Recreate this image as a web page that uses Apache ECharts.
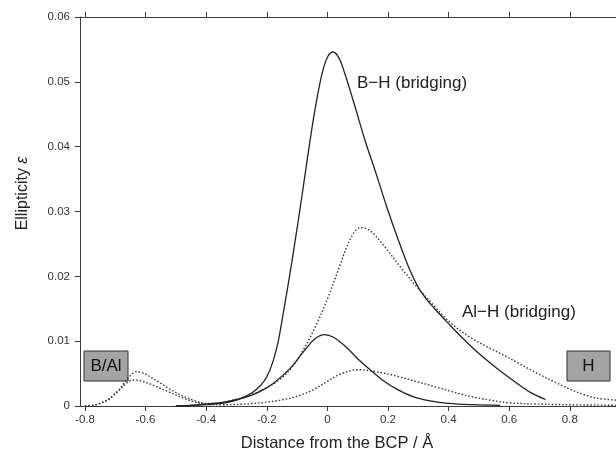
<!DOCTYPE html>
<html><head><meta charset="utf-8">
<script src="https://cdn.jsdelivr.net/npm/echarts@6/dist/echarts.min.js"></script>
<style>html,body{margin:0;padding:0;background:#fff}#c{width:616px;height:463px}</style>
</head><body><div id="c"></div>
<script>
const xTicks = [-0.8, -0.6, -0.4, -0.2, 0, 0.2, 0.4, 0.6, 0.8];

const solidBigX = [-0.5,-0.45,-0.4,-0.35,-0.3,-0.25,-0.22,-0.2,-0.18,-0.163,-0.145,-0.125,-0.107,-0.09,-0.074,-0.057,-0.04,-0.018,0,0.018,0.038,0.058,0.091,0.124,0.161,0.196,0.234,0.27,0.3,0.33,0.36,0.4,0.45,0.5,0.56,0.62,0.67,0.72];
const solidBigY = [0,0.0001,0.0002,0.0004,0.0009,0.002,0.0032,0.0045,0.0068,0.0098,0.0145,0.02,0.0253,0.0305,0.0356,0.041,0.046,0.0512,0.0538,0.0546,0.0537,0.0512,0.0462,0.041,0.0358,0.0307,0.0256,0.0212,0.0183,0.0163,0.0147,0.0127,0.0103,0.0081,0.0058,0.0037,0.0021,0.001];

const solidSmallX = [-0.5,-0.45,-0.377,-0.32,-0.266,-0.22,-0.178,-0.123,-0.068,-0.04,-0.01,0.02,0.064,0.1,0.141,0.185,0.229,0.28,0.339,0.4,0.48,0.57];
const solidSmallY = [0,0.0001,0.0004,0.0008,0.0014,0.0023,0.0035,0.0058,0.009,0.0104,0.011,0.0106,0.009,0.0073,0.0056,0.0039,0.0026,0.0015,0.0008,0.0004,0.0002,0.0001];

const dottedBigX = [-0.8,-0.775,-0.75,-0.725,-0.706,-0.688,-0.673,-0.65,-0.629,-0.61,-0.585,-0.55,-0.52,-0.48,-0.443,-0.4,-0.36,-0.32,-0.26,-0.21,-0.16,-0.12,-0.08,-0.04,0,0.04,0.075,0.108,0.14,0.185,0.24,0.295,0.345,0.405,0.471,0.537,0.58,0.635,0.69,0.75,0.8,0.85,0.89,0.953];
const dottedBigY = [0,0.0001,0.0004,0.001,0.0017,0.0025,0.0034,0.0047,0.0053,0.0051,0.0045,0.0035,0.0026,0.0016,0.0009,0.0004,0.0004,0.0008,0.0016,0.0026,0.004,0.0058,0.0086,0.0122,0.0165,0.0215,0.0257,0.0275,0.0271,0.0248,0.0215,0.0184,0.0158,0.0129,0.0106,0.0089,0.0079,0.0065,0.0051,0.0037,0.0026,0.0017,0.0012,0.0009];

const dottedSmallX = [-0.8,-0.775,-0.75,-0.725,-0.706,-0.685,-0.668,-0.651,-0.635,-0.61,-0.585,-0.55,-0.52,-0.48,-0.443,-0.4,-0.35,-0.27,-0.2,-0.156,-0.1,-0.047,0,0.042,0.1,0.16,0.229,0.3,0.36,0.42,0.48,0.537,0.6,0.69,0.8,0.953];
const dottedSmallY = [0,0.0001,0.0004,0.0009,0.0016,0.0025,0.0033,0.0039,0.004,0.0038,0.0034,0.0027,0.0021,0.0013,0.0007,0.0003,0.0002,0.0003,0.0006,0.0009,0.0015,0.0025,0.0038,0.0049,0.0056,0.0053,0.0046,0.0037,0.0029,0.0021,0.0014,0.0009,0.0005,0.0003,0.0002,0.0001];

function pairs(xs, ys) { return xs.map((x, i) => [x, ys[i]]); }

const font = '"Liberation Sans", Arial, Helvetica, sans-serif';
const axisColor = '#3a3a3a';
const chart = echarts.init(document.getElementById('c'), null, { renderer: 'canvas' });

const solidStyle = { color: '#222', width: 1.3, type: 'solid' };
const dotStyle = { color: '#333', width: 1.4, type: [1.5, 2] };

function lineSeries(xs, ys, style) {
  return {
    type: 'line', data: pairs(xs, ys), showSymbol: false, symbol: 'none',
    smooth: 0.35, lineStyle: style, silent: true, xAxisIndex: 0
  };
}

chart.setOption({
  animation: false,
  backgroundColor: '#fff',
  grid: { left: 80, right: 0, top: 17, bottom: 57 },
  xAxis: [
    {
      type: 'value', min: -0.8165, max: 0.9525, position: 'bottom',
      splitLine: { show: false },
      axisLine: { onZero: false, lineStyle: { color: axisColor, width: 1 } },
      axisTick: { customValues: xTicks, length: 5, lineStyle: { color: axisColor } },
      axisLabel: { customValues: xTicks, color: '#333', fontSize: 11.5, fontFamily: font, margin: 8 },
      name: 'Distance from the BCP / Å', nameLocation: 'middle', nameGap: 29,
      nameTextStyle: { fontSize: 16.5, color: '#222', fontFamily: font, padding: [0, 22, 0, 0] }
    },
    {
      type: 'value', min: -0.8165, max: 0.9525, position: 'top',
      splitLine: { show: false },
      axisLine: { onZero: false, lineStyle: { color: axisColor, width: 1 } },
      axisTick: { customValues: xTicks, length: 5, lineStyle: { color: axisColor } },
      axisLabel: { show: false }
    }
  ],
  yAxis: {
    type: 'value', min: 0, max: 0.06, interval: 0.01,
    splitLine: { show: false },
    axisLine: { show: true, onZero: false, lineStyle: { color: axisColor, width: 1 } },
    axisTick: { show: true, length: 5, lineStyle: { color: axisColor } },
    axisLabel: { color: '#333', fontSize: 11.5, fontFamily: font, margin: 10 },
    name: '{a|Ellipticity }{e|ε}', nameLocation: 'middle', nameGap: 49, nameRotate: 90,
    nameTextStyle: {
      fontFamily: font, padding: [0, 0, 0, 36],
      rich: {
        a: { fontSize: 16, color: '#222', fontFamily: font },
        e: { fontSize: 16, color: '#222', fontFamily: font, fontStyle: 'italic' }
      }
    }
  },
  series: [
    lineSeries(solidBigX, solidBigY, solidStyle),
    lineSeries(dottedBigX, dottedBigY, dotStyle),
    lineSeries(solidSmallX, solidSmallY, solidStyle),
    lineSeries(dottedSmallX, dottedSmallY, dotStyle)
  ],
  graphic: [
    { type: 'text', left: 357, top: 75, style: { text: 'B−H (bridging)', fontSize: 17, fontFamily: font, fill: '#222' } },
    { type: 'text', left: 462, top: 304, style: { text: 'Al−H (bridging)', fontSize: 17, fontFamily: font, fill: '#222' } },
    { type: 'rect', shape: { x: 84, y: 351, width: 44, height: 30 }, style: { fill: '#a3a3a3', stroke: '#333', lineWidth: 1 } },
    { type: 'text', x: 106, y: 366, style: { text: 'B/Al', fontSize: 17, fontFamily: font, fill: '#111', align: 'center', verticalAlign: 'middle' } },
    { type: 'rect', shape: { x: 567, y: 351, width: 43, height: 30 }, style: { fill: '#a3a3a3', stroke: '#333', lineWidth: 1 } },
    { type: 'text', x: 588.5, y: 366, style: { text: 'H', fontSize: 17, fontFamily: font, fill: '#111', align: 'center', verticalAlign: 'middle' } }
  ]
});
</script>
</body></html>
